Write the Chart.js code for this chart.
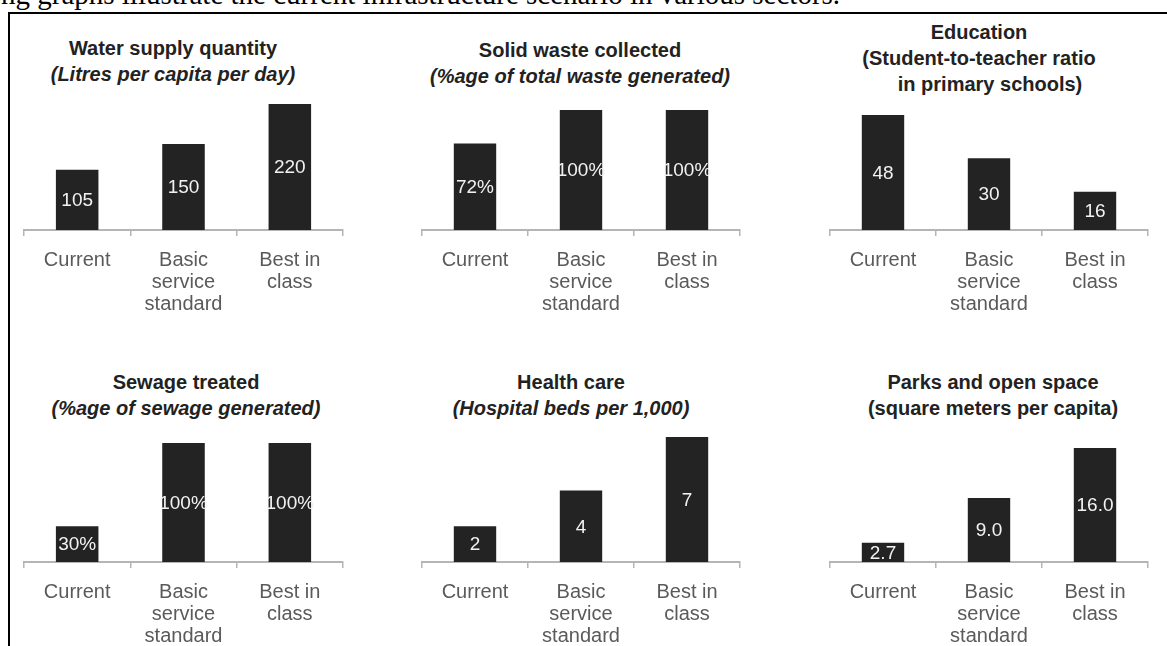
<!DOCTYPE html>
<html>
<head>
<meta charset="utf-8">
<script src="https://cdn.jsdelivr.net/npm/chart.js@4"></script>
<style>
    body {
        margin: 0;
        width: 1167px;
        height: 646px;
        overflow: hidden;
        position: relative;
        background: #fff;
        font-family: "Liberation Sans", Arial, sans-serif;
    }
    .intro {
        position: absolute;
        left: 1px;
        top: -20px;
        font-family: "Liberation Serif", "Times New Roman", serif;
        font-size: 29px;
        line-height: 29px;
        white-space: nowrap;
        color: #000;
    }
    .frame {
        position: absolute;
        left: 8px;
        top: 12px;
        right: -10px;
        bottom: -10px;
        border-left: 2px solid #000;
        border-top: 2px solid #000;
    }
    .title {
        position: absolute;
        width: 400px;
        text-align: center;
        font-weight: bold;
        font-size: 20px;
        line-height: 26px;
        color: #222;
        white-space: nowrap;
    }
    .title span { display: block; }
    .title .sub { font-style: italic; }
    canvas { position: absolute; }
</style>
</head>
<body>
<div class="intro">ng graphs illustrate the current infrastructure scenario in various sectors.</div>
<div class="frame"></div>

<div class="title" style="left:-27px; top:35px;"><span>Water supply quantity</span><span class="sub">(Litres per capita per day)</span></div>
<div class="title" style="left:380px; top:37px;"><span>Solid waste collected</span><span class="sub">(%age of total waste generated)</span></div>
<div class="title" style="left:779px; top:19px;"><span>Education</span><span>(Student-to-teacher ratio</span><span style="padding-left:22px;">in primary schools)</span></div>
<div class="title" style="left:-14px; top:369px;"><span>Sewage treated</span><span class="sub">(%age of sewage generated)</span></div>
<div class="title" style="left:371px; top:369px;"><span>Health care</span><span class="sub">(Hospital beds per 1,000)</span></div>
<div class="title" style="left:793px; top:369px;"><span>Parks and open space</span><span>(square meters per capita)</span></div>

<canvas id="water"></canvas>
<canvas id="waste"></canvas>
<canvas id="education"></canvas>
<canvas id="sewage"></canvas>
<canvas id="health"></canvas>
<canvas id="parks"></canvas>

<script>
    const categories = [['Current'], ['Basic', 'service', 'standard'], ['Best in', 'class']];

    const waterValues = [105, 150, 220];
    const wasteValues = [72, 100, 100];
    const educationValues = [48, 30, 16];
    const sewageValues = [30, 100, 100];
    const healthValues = [2, 4, 7];
    const parksValues = [2.7, 9.0, 16.0];

    const fontFamily = '"Liberation Sans", Arial, sans-serif';
    const axisLabelSpace = 80;

    // white value text in the middle of each bar
    const valueLabels = {
        id: 'valueLabels',
        afterDatasetsDraw(chart, args, opts) {
            const ctx = chart.ctx;
            const meta = chart.getDatasetMeta(0);
            const values = chart.data.datasets[0].data;
            ctx.save();
            ctx.font = '19px ' + fontFamily;
            ctx.fillStyle = '#f2f2f2';
            ctx.textAlign = 'center';
            ctx.textBaseline = 'middle';
            meta.data.forEach((bar, i) => {
                const text = values[i].toFixed(opts.decimals) + opts.suffix;
                ctx.fillText(text, bar.x, (bar.y + bar.base) / 2 + 1);
            });
            ctx.restore();
        }
    };

    function drawPanel(id, values, left, right, axisY, topY, suffix, decimals) {
        const canvas = document.getElementById(id);
        canvas.width = right - left + 4;
        canvas.height = axisY - topY + axisLabelSpace;
        canvas.style.left = (left - 2) + 'px';
        canvas.style.top = topY + 'px';

        return new Chart(canvas, {
            type: 'bar',
            data: {
                labels: categories,
                datasets: [{
                    data: values,
                    backgroundColor: '#232323',
                    borderWidth: 0,
                    barPercentage: 0.4,
                    categoryPercentage: 1
                }]
            },
            options: {
                responsive: false,
                animation: false,
                events: [],
                layout: { padding: { left: 2, right: 2, top: 0, bottom: 0 } },
                plugins: {
                    legend: { display: false },
                    tooltip: { enabled: false },
                    valueLabels: { suffix: suffix, decimals: decimals }
                },
                scales: {
                    x: {
                        offset: true,
                        grid: {
                            offset: true,
                            drawOnChartArea: false,
                            drawTicks: true,
                            tickLength: 6,
                            color: '#b5b5b5',
                            lineWidth: 1.5
                        },
                        border: { display: true, color: '#b5b5b5', width: 2 },
                        ticks: {
                            color: '#5a5a5a',
                            font: { size: 20, family: fontFamily, lineHeight: 1.1 },
                            padding: 13,
                            maxRotation: 0,
                            autoSkip: false
                        },
                        afterFit: function (scale) {
                            scale.height = axisLabelSpace;
                        }
                    },
                    y: {
                        display: false,
                        min: 0,
                        max: Math.max(...values)
                    }
                }
            },
            plugins: [valueLabels]
        });
    }

    drawPanel('water', waterValues, 24, 343, 230, 104, '', 0);
    drawPanel('waste', wasteValues, 422, 740, 230, 110, '%', 0);
    drawPanel('education', educationValues, 830, 1148, 230, 115, '', 0);
    drawPanel('sewage', sewageValues, 24, 343, 562, 443, '%', 0);
    drawPanel('health', healthValues, 422, 740, 562, 437, '', 0);
    drawPanel('parks', parksValues, 830, 1148, 562, 448, '', 1);
</script>
</body>
</html>
